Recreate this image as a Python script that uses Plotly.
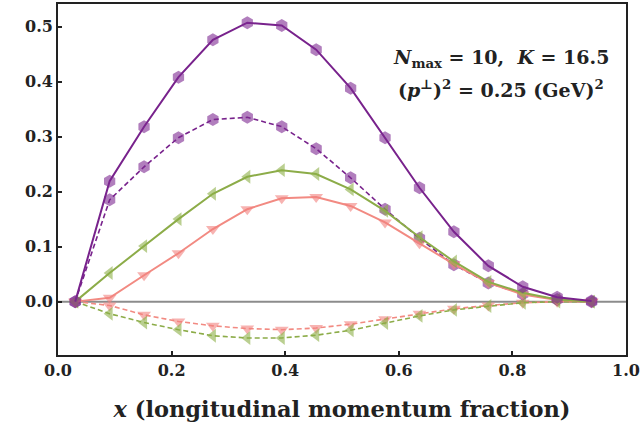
import plotly.graph_objects as go

x = [0.0303, 0.0909, 0.1515, 0.2121, 0.2727, 0.3333, 0.3939, 0.4545, 0.5152,
     0.5758, 0.6364, 0.6970, 0.7576, 0.8182, 0.8788, 0.9394]

purple_solid = [0.0, 0.219, 0.318, 0.408, 0.476, 0.507, 0.502, 0.458, 0.388,
                0.298, 0.207, 0.127, 0.065, 0.027, 0.008, 0.001]
purple_dashed = [0.0, 0.185, 0.245, 0.298, 0.331, 0.335, 0.318, 0.278, 0.225,
                 0.168, 0.115, 0.067, 0.034, 0.014, 0.004, 0.0]
green_solid = [0.0, 0.052, 0.101, 0.150, 0.196, 0.227, 0.239, 0.232, 0.204,
               0.165, 0.117, 0.073, 0.036, 0.016, 0.004, 0.0]
red_solid = [0.0, 0.007, 0.048, 0.088, 0.132, 0.168, 0.188, 0.190, 0.174,
             0.144, 0.106, 0.068, 0.034, 0.013, 0.003, 0.0]
red_dashed = [0.0, -0.007, -0.024, -0.036, -0.044, -0.049, -0.051, -0.048,
              -0.041, -0.032, -0.022, -0.013, -0.007, -0.002, 0.0, 0.0]
green_dashed = [0.0, -0.022, -0.038, -0.051, -0.062, -0.066, -0.066, -0.061,
                -0.052, -0.039, -0.026, -0.015, -0.008, -0.002, 0.0, 0.0]

x_ticks = [0.0, 0.2, 0.4, 0.6, 0.8, 1.0]
y_ticks = [0.0, 0.1, 0.2, 0.3, 0.4, 0.5]

PURPLE = "#78228c"
PURPLE_M = "rgba(125,40,145,0.6)"
GREEN = "#8cac48"
GREEN_M = "rgba(140,175,70,0.6)"
RED = "#f28a82"
RED_M = "rgba(242,128,125,0.6)"

FONT = "DejaVu Serif"

fig = go.Figure()

fig.add_hline(y=0, line=dict(color="#8c8c8c", width=2), layer="below")

def add(y, color, mcolor, symbol, dash, width, size):
    fig.add_trace(go.Scatter(
        x=x, y=y, mode="lines+markers",
        line=dict(color=color, width=width, dash=dash),
        marker=dict(symbol=symbol, size=size, color=mcolor,
                    line=dict(width=0)),
        showlegend=False))

DASH = "5px,3px"
add(red_dashed, RED, RED_M, "triangle-down", DASH, 1.6, 12)
add(green_dashed, GREEN, GREEN_M, "triangle-left", DASH, 1.6, 12)
add(purple_dashed, PURPLE, PURPLE_M, "hexagon", DASH, 1.6, 13)
add(red_solid, RED, RED_M, "triangle-down", "solid", 2, 12)
add(green_solid, GREEN, GREEN_M, "triangle-left", "solid", 2, 12)
add(purple_solid, PURPLE, PURPLE_M, "hexagon", "solid", 2, 13)

axis_common = dict(showline=True, linecolor="#222", linewidth=1.8, mirror=True,
                   ticks="inside", ticklen=4, tickwidth=1.5, tickcolor="#222",
                   showgrid=False, zeroline=False, automargin=False,
                   tickfont=dict(family=FONT, size=16, color="#222"))

fig.update_xaxes(range=[0, 1], tickvals=x_ticks,
                 ticktext=[f"<b>{v:.1f}</b>" for v in x_ticks],
                 title=dict(text="<b><i>x</i> (longitudinal momentum fraction)</b>",
                            font=dict(family=FONT, size=22.5, color="#222"),
                            standoff=22),
                 **axis_common)
fig.update_yaxes(range=[-0.097, 0.541], tickvals=y_ticks,
                 ticktext=[f"<b>{v:.1f}</b>" for v in y_ticks],
                 **axis_common)

fig.add_annotation(xref="paper", yref="paper", x=0.78, y=0.846, xanchor="center",
                   yanchor="middle",
                   text="<b><i>N</i><sub>max</sub> = 10,  <i>K</i> = 16.5</b>",
                   showarrow=False, font=dict(family=FONT, size=19, color="#222"))
fig.add_annotation(xref="paper", yref="paper", x=0.78, y=0.758, xanchor="center",
                   yanchor="middle",
                   text="<b>(<i>p</i><sup>⊥</sup>)<sup>2</sup> = 0.25 (GeV)<sup>2</sup></b>",
                   showarrow=False, font=dict(family=FONT, size=19, color="#222"))

fig.update_layout(width=641, height=427, plot_bgcolor="white", paper_bgcolor="white",
                  margin=dict(l=58, r=15, t=4, b=72))

fig.write_html("out.html", config={"displayModeBar": False},
               post_script="document.body.style.margin='0';")
